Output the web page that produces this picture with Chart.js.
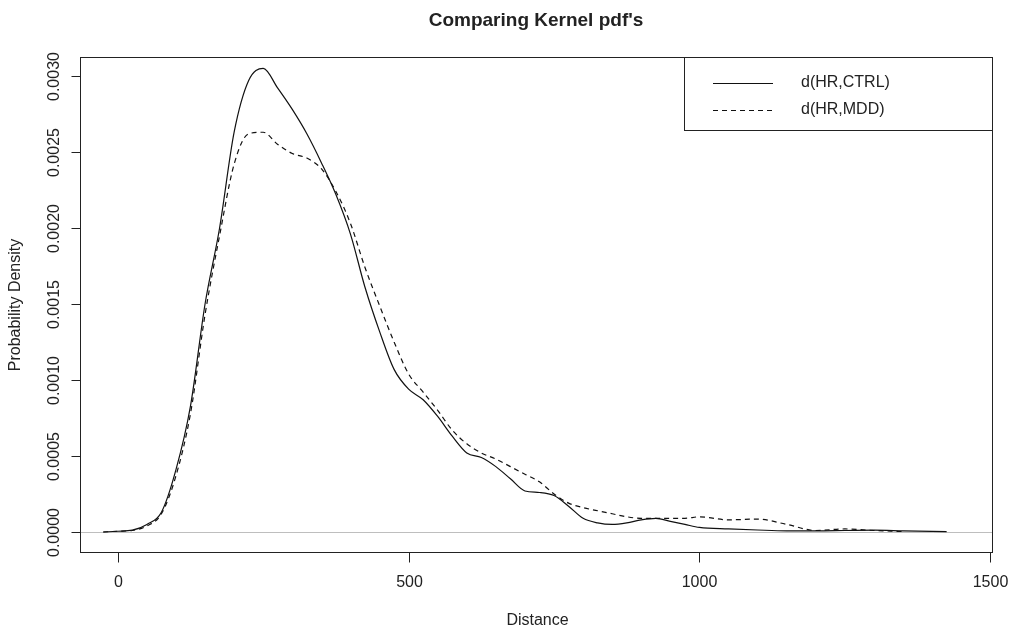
<!DOCTYPE html>
<html>
<head>
<meta charset="utf-8">
<script src="https://cdn.jsdelivr.net/npm/chart.js@4/dist/chart.umd.min.js"></script>
<style>
  body { margin: 0; background: #fff; }
  #wrap { width: 1009px; height: 631px; position: relative; }
</style>
</head>
<body>
<div id="wrap"><canvas id="kernel-chart"></canvas></div>
<script>
// values
const distances = [-25, 0, 25, 50, 75, 100, 125, 150, 175, 200, 225, 250, 275, 300, 325, 350, 375, 400,
    425, 450, 475, 500, 525, 550, 575, 600, 625, 650, 675, 700, 725, 750, 775, 800, 825, 850, 875, 900,
    925, 950, 975, 1000, 1050, 1100, 1150, 1200, 1250, 1300, 1350, 1400, 1425];
const ctrlDensity = [0.000000, 0.000005, 0.000012, 0.00005, 0.00013, 0.00041, 0.00083, 0.00150, 0.00200,
    0.00263, 0.00297, 0.00305, 0.00292, 0.00278, 0.00262, 0.00243, 0.00222, 0.00196, 0.00161, 0.00132,
    0.00107, 0.00094, 0.00087, 0.00076, 0.00063, 0.00052, 0.00049, 0.00043, 0.00035, 0.00027, 0.00026,
    0.00024, 0.00017, 0.00009, 0.00006, 0.00005, 0.00006, 0.00008, 0.00009, 0.00007, 0.00005, 0.00003,
    0.00002, 0.000013, 0.000008, 0.000008, 0.00001, 0.000012, 0.000008, 0.000004, 0.000002];
const mddDensity = [0.000000, 0.000005, 0.00001, 0.00004, 0.00012, 0.00037, 0.00078, 0.00143, 0.00195,
    0.00242, 0.00262, 0.00263, 0.00255, 0.00249, 0.00246, 0.00239, 0.00224, 0.00203, 0.00174, 0.00149,
    0.00125, 0.00104, 0.00092, 0.00080, 0.00067, 0.00058, 0.00052, 0.00048, 0.00043, 0.00038, 0.00033,
    0.00025, 0.00019, 0.00016, 0.00014, 0.00012, 0.00010, 0.00009, 0.00009, 0.00009, 0.00009, 0.00010,
    0.00008, 0.000085, 0.00005, 0.00001, 0.00002, 0.00001, 0.000003, null, null];
const seriesNames = ['d(HR,CTRL)', 'd(HR,MDD)'];
const xTicks = [0, 500, 1000, 1500];
const yTicks = [0, 0.0005, 0.001, 0.0015, 0.002, 0.0025, 0.003];
const chartTitle = "Comparing Kernel pdf's";
const xTitle = 'Distance';
const yTitle = 'Probability Density';

const FONT = '"Liberation Sans", Arial, sans-serif';

function toPoints(values) {
    return distances.map((d, i) => ({ x: d, y: values[i] }));
}

// R style frame, axes, title and legend
const rFrame = {
    id: 'rFrame',
    beforeDatasetsDraw(chart) {
        const { ctx, chartArea: a, scales: { y } } = chart;
        const y0 = Math.round(y.getPixelForValue(0)) + 0.5;
        ctx.save();
        ctx.strokeStyle = '#bebebe';
        ctx.lineWidth = 1;
        ctx.beginPath();
        ctx.moveTo(a.left, y0);
        ctx.lineTo(a.right, y0);
        ctx.stroke();
        ctx.restore();
    },
    afterDraw(chart) {
        const { ctx, chartArea: a, scales: { x, y } } = chart;
        const L = a.left + 0.5, R = a.right + 0.5, T = a.top + 0.5, B = a.bottom + 0.5;
        ctx.save();
        ctx.strokeStyle = '#222';
        ctx.fillStyle = '#222';
        ctx.lineWidth = 1;
        ctx.strokeRect(L, T, R - L, B - T);

        ctx.font = '16px ' + FONT;
        ctx.textAlign = 'center';
        ctx.textBaseline = 'middle';
        xTicks.forEach(t => {
            const px = Math.round(x.getPixelForValue(t)) + 0.5;
            ctx.beginPath();
            ctx.moveTo(px, B);
            ctx.lineTo(px, B + 10);
            ctx.stroke();
            ctx.fillText(String(t), px, 583);
        });
        yTicks.forEach(t => {
            const py = Math.round(y.getPixelForValue(t)) + 0.5;
            ctx.beginPath();
            ctx.moveTo(L, py);
            ctx.lineTo(L - 9, py);
            ctx.stroke();
            ctx.save();
            ctx.translate(55, py);
            ctx.rotate(-Math.PI / 2);
            ctx.fillText(t.toFixed(4), 0, 0);
            ctx.restore();
        });

        ctx.fillText(xTitle, (L + R) / 2 + 1, 621);
        ctx.save();
        ctx.translate(16, (T + B) / 2);
        ctx.rotate(-Math.PI / 2);
        ctx.fillText(yTitle, 0, 0);
        ctx.restore();

        ctx.font = 'bold 19px ' + FONT;
        ctx.fillText(chartTitle, 536, 21);

        // legend box in the top right corner
        const lx = 684.5;
        ctx.fillStyle = '#fff';
        ctx.fillRect(lx, T, R - lx, 130 - T);
        ctx.strokeRect(lx, T, R - lx, 130.5 - T);
        ctx.fillStyle = '#222';
        ctx.font = '16px ' + FONT;
        ctx.textAlign = 'left';
        const rows = [83, 110];
        chart.data.datasets.forEach((ds, i) => {
            ctx.setLineDash(ds.borderDash || []);
            ctx.lineWidth = 1.2;
            ctx.strokeStyle = '#111';
            ctx.beginPath();
            ctx.moveTo(713, rows[i] + 0.5);
            ctx.lineTo(773, rows[i] + 0.5);
            ctx.stroke();
            ctx.setLineDash([]);
            ctx.fillText(ds.label, 801, rows[i]);
        });
        ctx.restore();
    }
};

new Chart(document.getElementById('kernel-chart'), {
    type: 'line',
    data: {
        datasets: [
            {
                label: seriesNames[0],
                data: toPoints(ctrlDensity),
                borderColor: '#111',
                borderWidth: 1.2,
                pointRadius: 0,
                cubicInterpolationMode: 'monotone',
                fill: false
            },
            {
                label: seriesNames[1],
                data: toPoints(mddDensity),
                borderColor: '#111',
                borderWidth: 1.2,
                borderDash: [5, 4],
                pointRadius: 0,
                cubicInterpolationMode: 'monotone',
                fill: false
            }
        ]
    },
    options: {
        responsive: true,
        maintainAspectRatio: false,
        animation: false,
        layout: { padding: { left: 80, top: 57, right: 17, bottom: 79 } },
        scales: {
            x: { type: 'linear', min: -65, max: 1503, display: false },
            y: { type: 'linear', min: -0.0001316, max: 0.003125, display: false }
        },
        plugins: {
            legend: { display: false },
            title: { display: false },
            tooltip: { enabled: false }
        }
    },
    plugins: [rFrame]
});
</script>
</body>
</html>
